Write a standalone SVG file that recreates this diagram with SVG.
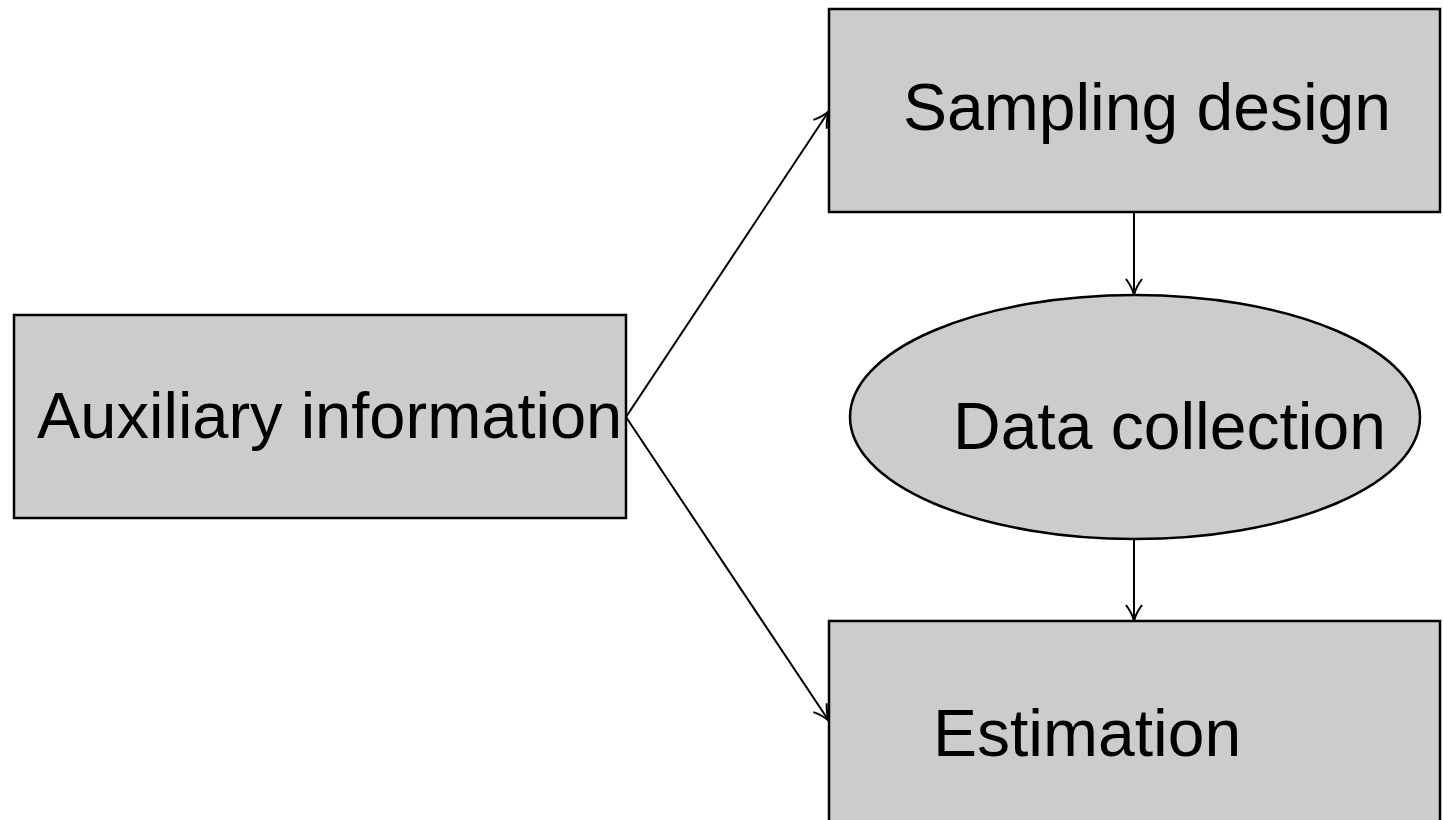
<svg xmlns="http://www.w3.org/2000/svg" width="1443" height="820" viewBox="0 0 1443 820">
<style>
.box{fill:#cccccc;stroke:#000;stroke-width:2.5}
.lbl{font-family:"Liberation Sans",Arial,sans-serif;font-size:66px;fill:#000}
.conn{stroke:#000;stroke-width:2;fill:none}
</style>
<defs>
<marker id="arr" viewBox="0 0 24 24" refX="22" refY="12" markerWidth="24" markerHeight="24" markerUnits="userSpaceOnUse" orient="auto">
<path d="M6,4 Q14,10 22,12 Q14,14 6,20" fill="none" stroke="#000" stroke-width="2"/>
</marker>
</defs>
<rect width="1443" height="820" fill="#fff"/>
<g id="auxiliary">
<rect class="box" x="14" y="315" width="612" height="203"/>
<text class="lbl" x="37" y="438" style="font-size:65px">Auxiliary information</text>
</g>
<g id="sampling">
<rect class="box" x="829" y="9" width="611" height="203"/>
<text class="lbl" x="903" y="130">Sampling design</text>
</g>
<g id="datacollection">
<ellipse class="box" cx="1135" cy="417" rx="285" ry="122"/>
<text class="lbl" x="953" y="449">Data collection</text>
</g>
<g id="estimation">
<rect class="box" x="829" y="621" width="611" height="220"/>
<text class="lbl" x="933" y="756">Estimation</text>
</g>
<g id="connectors">
<line class="conn" x1="626" y1="417" x2="829" y2="111" marker-end="url(#arr)"/>
<line class="conn" x1="626" y1="417" x2="829" y2="721" marker-end="url(#arr)"/>
<line class="conn" x1="1134" y1="212" x2="1134" y2="295" marker-end="url(#arr)"/>
<line class="conn" x1="1134" y1="539" x2="1134" y2="621" marker-end="url(#arr)"/>
</g>
</svg>
